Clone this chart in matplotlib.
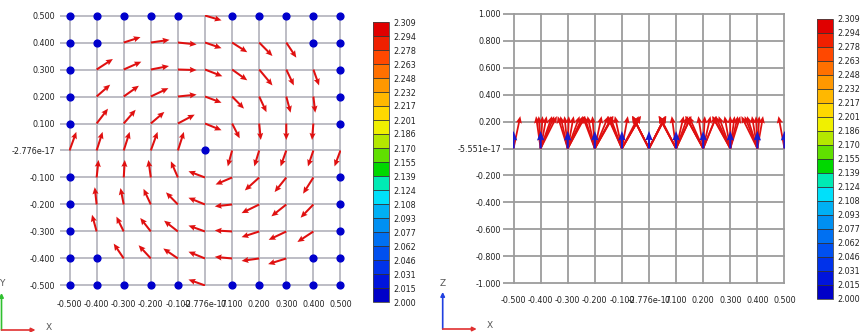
import numpy as np
import matplotlib
matplotlib.use("Agg")
import matplotlib.pyplot as plt
import matplotlib.colors as mcolors
import matplotlib.cm as cm

# ---- data ----
# red arrows in the x-y view: tail position and vector
arrow_x = [0.0,
           -0.3, -0.2, -0.1, 0.0, 0.1, 0.2, 0.3,
           -0.4, -0.3, -0.2, -0.1, 0.0, 0.1, 0.2, 0.3, 0.4,
           -0.4, -0.3, -0.2, -0.1, 0.0, 0.1, 0.2, 0.3, 0.4,
           -0.4, -0.3, -0.2, -0.1, 0.0, 0.1, 0.2, 0.3, 0.4,
           -0.5, -0.4, -0.3, -0.2, -0.1, 0.1, 0.2, 0.3, 0.4, 0.5,
           -0.4, -0.3, -0.2, -0.1, 0.0, 0.1, 0.2, 0.3, 0.4,
           -0.4, -0.3, -0.2, -0.1, 0.0, 0.1, 0.2, 0.3, 0.4,
           -0.4, -0.3, -0.2, -0.1, 0.0, 0.1, 0.2, 0.3, 0.4,
           -0.3, -0.2, -0.1, 0.0, 0.1, 0.2, 0.3,
           0.0]
arrow_y = [0.5] + [0.4] * 7 + [0.3] * 9 + [0.2] * 9 + [0.1] * 9 + [0.0] * 10 \
    + [-0.1] * 9 + [-0.2] * 9 + [-0.3] * 9 + [-0.4] * 7 + [-0.5]
arrow_u = [0.061,
           0.062, 0.069, 0.069, 0.061, 0.056, 0.049, 0.037,
           0.060, 0.065, 0.067, 0.069, 0.064, 0.056, 0.049, 0.028, 0.021,
           0.050, 0.056, 0.065, 0.069, 0.061, 0.044, 0.027, 0.016, 0.007,
           0.042, 0.044, 0.050, 0.062, 0.061, 0.028, 0.006, 0.000, -0.005,
           0.025, 0.022, 0.022, 0.025, 0.022, -0.016, -0.018, -0.021, -0.020, -0.022,
           0.007, 0.004, -0.009, -0.026, -0.061, -0.061, -0.053, -0.043, -0.038,
           -0.007, -0.012, -0.027, -0.044, -0.061, -0.064, -0.065, -0.055, -0.047,
           -0.017, -0.027, -0.039, -0.051, -0.061, -0.064, -0.065, -0.065, -0.059,
           -0.037, -0.045, -0.054, -0.061, -0.064, -0.065, -0.067,
           -0.061]
arrow_v = [-0.018,
           0.020, 0.010, -0.007, -0.021, -0.036, -0.050, -0.056,
           0.039, 0.029, 0.013, -0.002, -0.025, -0.040, -0.059, -0.059, -0.059,
           0.044, 0.040, 0.031, 0.007, -0.023, -0.045, -0.058, -0.060, -0.060,
           0.055, 0.051, 0.043, 0.033, -0.025, -0.055, -0.061, -0.061, -0.061,
           0.069, 0.069, 0.069, 0.069, 0.069, -0.059, -0.059, -0.059, -0.059, -0.059,
           0.065, 0.065, 0.065, 0.060, 0.023, -0.026, -0.048, -0.054, -0.060,
           0.064, 0.061, 0.058, 0.045, 0.025, -0.007, -0.032, -0.044, -0.049,
           0.062, 0.055, 0.050, 0.040, 0.022, 0.004, -0.021, -0.031, -0.039,
           0.055, 0.049, 0.037, 0.025, 0.006, -0.009, -0.021,
           0.022]

# blue nodes (zero in-plane vector)
dot_x = [-0.5, -0.4, -0.3, -0.2, -0.1, 0.1, 0.2, 0.3, 0.4, 0.5,
         -0.5, -0.4, 0.4, 0.5,
         -0.5, 0.5, -0.5, 0.5, -0.5, 0.5,
         0.0,
         -0.5, 0.5, -0.5, 0.5, -0.5, 0.5,
         -0.5, -0.4, 0.4, 0.5,
         -0.5, -0.4, -0.3, -0.2, -0.1, 0.1, 0.2, 0.3, 0.4, 0.5]
dot_y = [0.5] * 10 + [0.4] * 4 + [0.3, 0.3, 0.2, 0.2, 0.1, 0.1] + [0.0] \
    + [-0.1, -0.1, -0.2, -0.2, -0.3, -0.3] + [-0.4] * 4 + [-0.5] * 10

# x-z view
side_red_w = 0.24          # vertical component of red arrows
side_blue_x = [-0.5, -0.4, -0.3, -0.2, -0.1, 0.0, 0.1, 0.2, 0.3, 0.4, 0.5]
side_blue_w = 0.13

xy_ticks = [-0.5, -0.4, -0.3, -0.2, -0.1, 0.0, 0.1, 0.2, 0.3, 0.4, 0.5]
xy_labels = ['-0.500', '-0.400', '-0.300', '-0.200', '-0.100', '-2.776e-17',
             '0.100', '0.200', '0.300', '0.400', '0.500']
z_ticks = [-1.0, -0.8, -0.6, -0.4, -0.2, 0.0, 0.2, 0.4, 0.6, 0.8, 1.0]
z_labels = ['-1.000', '-0.800', '-0.600', '-0.400', '-0.200', '-5.551e-17',
            '0.200', '0.400', '0.600', '0.800', '1.000']

cbar_labels = ['2.000', '2.015', '2.031', '2.046', '2.062', '2.077', '2.093',
               '2.108', '2.124', '2.139', '2.155', '2.170', '2.186', '2.201',
               '2.217', '2.232', '2.248', '2.263', '2.278', '2.294', '2.309']
band_colors = ['#0000c8', '#0014dc', '#0032ea', '#0050f0', '#0070f2', '#0090f2',
               '#00b0f4', '#00e0fa', '#00eab4', '#00d800', '#60e000', '#b4e800',
               '#f0f000', '#ffd800', '#ffb800', '#ff9800', '#ff7000', '#ff4800',
               '#f02000', '#e00000']

plt.rcParams['font.family'] = ['Liberation Sans Narrow', 'DejaVu Sans']
txt = '#222222'
red = '#e01010'
blue = '#0000cc'

fig = plt.figure(figsize=(8.6, 3.32), dpi=100)


def setup_axes(ax, yticks, ylabels, ylim, gridcol, ylen, ypad, xpad):
    ax.set_xlim(-0.502, 0.502)
    ax.set_ylim(ylim)
    ax.set_xticks(xy_ticks)
    ax.set_xticklabels(xy_labels)
    ax.set_yticks(yticks)
    ax.set_yticklabels(ylabels)
    for s in ax.spines.values():
        s.set_visible(False)
    ax.grid(True, color=gridcol, linewidth=1.3)
    ax.set_axisbelow(True)
    ax.tick_params(axis='x', length=0, pad=xpad, labelsize=5.8, labelcolor=txt)
    ax.tick_params(axis='y', length=ylen, width=1.3, color=gridcol, pad=ypad,
                   labelsize=5.8, labelcolor=txt)


def add_cbar(rect):
    cax = fig.add_axes(rect)
    bounds = [float(s) for s in cbar_labels]
    cmap = mcolors.ListedColormap(band_colors)
    norm = mcolors.BoundaryNorm(bounds, cmap.N)
    sm = cm.ScalarMappable(norm=norm, cmap=cmap)
    cb = fig.colorbar(sm, cax=cax, boundaries=bounds, ticks=bounds,
                      spacing='uniform', drawedges=True)
    cb.set_ticklabels(cbar_labels)
    cb.outline.set_edgecolor('#444444')
    cb.outline.set_linewidth(0.6)
    cb.dividers.set_color('#333333')
    cb.dividers.set_linewidth(0.6)
    cax.tick_params(length=0, pad=3, labelsize=5.8, labelcolor=txt)


# ---- left: x-y view ----
ax1 = fig.add_axes([69 / 860, 46 / 332, 272 / 860, 271 / 332])
setup_axes(ax1, xy_ticks, xy_labels, (-0.502, 0.502), '#b8b8c0', 6.5, 3.5, 10)
ax1.quiver(arrow_x, arrow_y, arrow_u, arrow_v, angles='xy', scale_units='xy',
           scale=1, color=red, width=0.0075, headwidth=3.0, headlength=3.4,
           headaxislength=3.0, zorder=3)
ax1.scatter(dot_x, dot_y, s=24, color=blue, zorder=4, clip_on=False)
add_cbar([373 / 860, 30 / 332, 16 / 860, 280 / 332])

# ---- right: x-z view ----
ax2 = fig.add_axes([513 / 860, 48 / 332, 272 / 860, 271 / 332])
setup_axes(ax2, z_ticks, z_labels, (-1.004, 1.004), '#9c9c9c', 7.2, 1.5, 8.6)
base = np.zeros(len(arrow_x))
ax2.quiver(arrow_x, base, arrow_u, base + side_red_w, angles='xy',
           scale_units='xy', scale=1, color=red, width=0.0065, headwidth=3.4,
           headlength=4.0, headaxislength=3.6, zorder=3)
bbase = np.zeros(len(side_blue_x))
ax2.quiver(side_blue_x, bbase, bbase, bbase + side_blue_w, angles='xy',
           scale_units='xy', scale=1, color='#1a1acc', width=0.008,
           headwidth=3.4, headlength=4.4, headaxislength=4.0, zorder=4)
add_cbar([817 / 860, 33 / 332, 16 / 860, 280 / 332])

# ---- axis triads ----
ov = fig.add_axes([0, 0, 1, 1], zorder=-1)
ov.set_xlim(0, 860)
ov.set_ylim(332, 0)
ov.axis('off')


def triad(x0, y0, vcol, vlab):
    ov.annotate('', xy=(x0, y0 - 37), xytext=(x0, y0),
                arrowprops=dict(arrowstyle='-|>', color=vcol, lw=1.2,
                                mutation_scale=6, shrinkA=0, shrinkB=0))
    ov.annotate('', xy=(x0 + 34, y0), xytext=(x0, y0),
                arrowprops=dict(arrowstyle='-|>', color='#e03030', lw=1.2,
                                mutation_scale=6, shrinkA=0, shrinkB=0))
    ov.text(x0, y0 - 46, vlab, ha='center', va='center', fontsize=6.5,
            color='#555555')
    ov.text(x0 + 47, y0 - 3, 'X', ha='center', va='center', fontsize=6.5,
            color='#555555')


triad(1.5, 330, '#30c030', 'Y')
triad(442.7, 329, '#2040e0', 'Z')

fig.savefig('out.png', dpi=100)
